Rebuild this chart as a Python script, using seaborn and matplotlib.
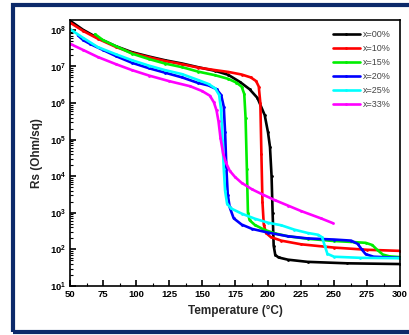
import numpy as np
import pandas as pd
import matplotlib
matplotlib.use('Agg')
import matplotlib.pyplot as plt
from matplotlib.patches import Rectangle
from matplotlib.ticker import FixedLocator, LogLocator, NullFormatter
import seaborn as sns

# Sheet resistance vs temperature (log10 of Rs)
labels = ['x=00%', 'x=10%', 'x=15%', 'x=20%', 'x=25%', 'x=33%']
colors = ['#000000', '#ff0000', '#00ee00', '#0000ff', '#00ffff', '#ff00ff']

T_00 = [50, 60, 71, 85, 97, 110, 122, 135, 147, 160, 170, 179, 186, 192, 197.5, 200, 201.5,
        202.7, 203.5, 204.3, 205.5, 208, 215, 230, 260, 300]
R_00 = [8.25, 8.0, 7.78, 7.55, 7.39, 7.27, 7.17, 7.08, 6.98, 6.88, 6.77, 6.57, 6.38, 6.14, 5.67,
        5.2, 4.8, 4.0, 3.0, 2.1, 1.85, 1.78, 1.72, 1.66, 1.62, 1.6]

T_10 = [50, 60, 71, 85, 97, 110, 122, 135, 147, 160, 170, 180, 187, 191, 193, 194.2, 195,
        195.8, 196.8, 198.5, 202, 210, 225, 250, 275, 300]
R_10 = [8.2, 7.97, 7.76, 7.53, 7.37, 7.25, 7.15, 7.06, 6.97, 6.9, 6.85, 6.78, 6.7, 6.6, 6.45,
        6.0, 4.6, 3.3, 2.68, 2.45, 2.34, 2.24, 2.14, 2.05, 1.99, 1.96]

T_15 = [69, 75, 85, 97, 110, 122, 135, 147, 160, 170, 176, 180, 182, 183, 184, 184.8, 186,
        190, 197, 205, 215, 230, 250, 265, 274, 279, 283, 287, 292, 300]
R_15 = [7.88, 7.72, 7.55, 7.35, 7.2, 7.08, 6.98, 6.86, 6.76, 6.66, 6.56, 6.45, 6.25, 5.6, 4.2,
        3.0, 2.8, 2.67, 2.54, 2.44, 2.36, 2.29, 2.23, 2.2, 2.18, 2.12, 1.98, 1.86, 1.81, 1.79]

T_20 = [56, 60, 65, 75, 85, 97, 110, 122, 135, 147, 155, 161, 164.5, 166.5, 167.5, 168.5,
        169.5, 171, 174, 180, 188, 200, 215, 230, 250, 263, 268, 271, 274, 280, 300]
R_20 = [7.85, 7.72, 7.62, 7.45, 7.28, 7.1, 6.95, 6.83, 6.7, 6.55, 6.48, 6.38, 6.22, 5.9, 5.2,
        4.2, 3.5, 3.15, 2.85, 2.68, 2.56, 2.46, 2.36, 2.3, 2.27, 2.24, 2.15, 2.0, 1.87, 1.8, 1.77]

T_25 = [50, 60, 71, 85, 97, 110, 122, 135, 147, 155, 160, 163, 164.5, 165.5, 166.5, 167.5,
        169, 172, 180, 190, 200, 210, 220, 230, 238, 241, 243, 245, 250, 270, 300]
R_25 = [8.02, 7.78, 7.53, 7.33, 7.17, 7.02, 6.9, 6.79, 6.63, 6.52, 6.4, 6.22, 5.8, 5.0, 4.2,
        3.6, 3.25, 3.12, 2.98, 2.84, 2.73, 2.66, 2.54, 2.45, 2.4, 2.33, 2.1, 1.88, 1.8, 1.77, 1.76]

T_33 = [50, 60, 71, 85, 97, 110, 125, 141, 150, 156, 159, 161, 162.5, 164, 166, 168, 171,
        175, 180, 188, 196, 205, 215, 225, 240, 249]
R_33 = [7.62, 7.45, 7.26, 7.06, 6.9, 6.75, 6.6, 6.46, 6.33, 6.2, 6.02, 5.8, 5.5, 5.05, 4.62,
        4.38, 4.15, 3.98, 3.82, 3.64, 3.5, 3.35, 3.2, 3.05, 2.85, 2.72]

temps = [T_00, T_10, T_15, T_20, T_25, T_33]
logrs = [R_00, R_10, R_15, R_20, R_25, R_33]

x_ticks = [50, 75, 100, 125, 150, 175, 200, 225, 250, 275, 300]
y_exps = [1, 2, 3, 4, 5, 6, 7, 8]

sns.set_style('ticks')
plt.rcParams['font.family'] = ['Liberation Sans', 'DejaVu Sans']
plt.rcParams['mathtext.fontset'] = 'custom'
plt.rcParams['mathtext.rm'] = 'Liberation Sans:bold'
plt.rcParams['mathtext.bf'] = 'Liberation Sans:bold'

fig = plt.figure(figsize=(4.1, 3.35), dpi=100)
fig.patch.set_facecolor('white')
ax = fig.add_axes([70/410, 49/335, 330/410, 266/335])

for T, lr, lab, c in zip(temps, logrs, labels, colors):
    df = pd.DataFrame({'T': T, 'Rs': 10 ** np.array(lr)})
    sns.lineplot(data=df, x='T', y='Rs', ax=ax, color=c, lw=1.9, marker='.',
                 markersize=4, markeredgewidth=0, estimator=None, sort=False, label=lab)

ax.set_yscale('log')
ax.set_xlim(50, 300)
ax.set_ylim(10, 10 ** 8.27)
ax.set_xticks(x_ticks)
ax.set_xticklabels([str(t) for t in x_ticks], fontweight='bold', fontsize=6.8)
ax.xaxis.set_minor_locator(FixedLocator([t + 12.5 for t in x_ticks[:-1]]))
ax.set_yticks([10.0 ** e for e in y_exps])
ax.set_yticklabels([r'$\mathbf{10^{%d}}$' % e for e in y_exps], fontsize=6.8)
ax.yaxis.set_minor_locator(LogLocator(base=10, subs=np.arange(2, 10), numticks=20))
ax.yaxis.set_minor_formatter(NullFormatter())
ax.tick_params(which='both', direction='in', top=False, right=False, colors='black', pad=3)
ax.tick_params(which='major', length=4, width=1.2)
ax.tick_params(which='minor', length=2, width=0.8)
for s in ax.spines.values():
    s.set_color('black')
    s.set_linewidth(1.2)

ax.set_xlabel('Temperature (°C)', fontsize=8.5, fontweight='bold', labelpad=4)
ax.set_ylabel('Rs (Ohm/sq)', fontsize=8.5, fontweight='bold', labelpad=5)

leg = ax.legend(loc='upper right', bbox_to_anchor=(0.995, 0.99), frameon=False, fontsize=6.5,
                handlelength=3.0, handletextpad=0.4, labelspacing=0.55, borderpad=0.3)
for t in leg.get_texts():
    t.set_color('#444444')

fig.add_artist(Rectangle((13/410, 3/335), 1.0, 327/335, transform=fig.transFigure,
                         fill=False, edgecolor='#0c2a6a', lw=3, clip_on=False))

fig.savefig('out.png', dpi=100)
